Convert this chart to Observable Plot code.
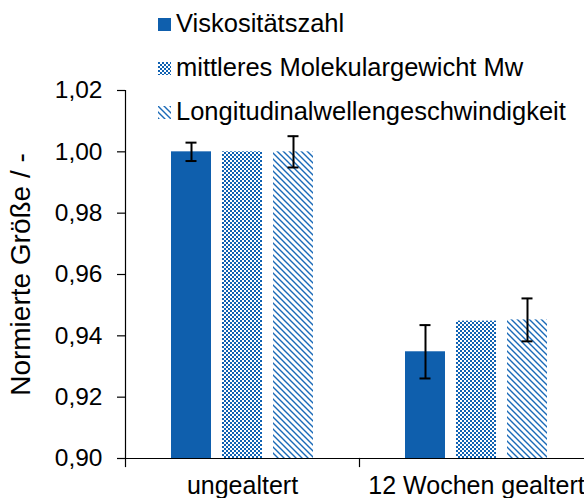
<!DOCTYPE html>
<html><head><meta charset="utf-8">
<script src="https://cdn.jsdelivr.net/npm/d3@7"></script>
<script src="https://cdn.jsdelivr.net/npm/@observablehq/plot@0.6"></script>
<style>
html,body{margin:0;padding:0;background:#fff;overflow:hidden;width:584px;height:498px;}
#wrap{position:relative;width:584px;height:498px;overflow:hidden;}
#chart svg{overflow:hidden;}
#legend{position:absolute;left:158px;top:1px;font-family:"Liberation Sans",Arial,sans-serif;font-size:25.5px;line-height:44px;color:#000;white-space:nowrap;}
#legend .row{height:44px;}
#legend svg{vertical-align:1px;margin-right:5px;}
</style></head><body>
<svg width="0" height="0" style="position:absolute">
<defs>
<pattern id="checker" width="4" height="4" patternUnits="userSpaceOnUse">
<rect width="4" height="4" fill="#fff"/>
<rect width="2" height="2" fill="#1062b2"/>
<rect x="2" y="2" width="2" height="2" fill="#1062b2"/>
</pattern>
<pattern id="stripes" width="6" height="6" patternUnits="userSpaceOnUse">
<rect width="6" height="6" fill="#fff"/>
<path d="M0,0L6,6M-1,5L1,7M5,-1L7,1" stroke="#1a6ab8" stroke-width="1.4"/>
</pattern>
</defs></svg>
<div id="wrap"><div id="chart"></div><div id="legend"></div></div>
<script>
const categories = ["ungealtert", "12 Wochen gealtert"];
const series = ["Viskositätszahl", "mittleres Molekulargewicht Mw", "Longitudinalwellengeschwindigkeit"];
const viskositaet = [1.000, 0.9348];
const viskositaetErr = [0.0030, 0.0087];
const molekulargewicht = [1.000, 0.9448];
const molekulargewichtErr = [null, null];
const longitudinal = [1.000, 0.9452];
const longitudinalErr = [0.0051, 0.0070];
const yTicks = [0.90, 0.92, 0.94, 0.96, 0.98, 1.00, 1.02];
const yLabel = "Normierte Größe / -";
const fills = ["#0f5fad", "url(#checker)", "url(#stripes)"];

const values = [viskositaet, molekulargewicht, longitudinal];
const errors = [viskositaetErr, molekulargewichtErr, longitudinalErr];
const rows = [];
categories.forEach((cat, i) => series.forEach((s, j) => rows.push({cat, series: s, value: values[j][i], err: errors[j][i]})));
const errRows = rows.filter(d => d.err != null);

const W = 584, H = 498, mL = 125, mT = 90, mB = 40, mR = -9;
const innerH = H - mT - mB;
const font = '"Liberation Sans", Arial, sans-serif';
const fmt = d => d.toFixed(2).replace(".", ",");

const plot = Plot.plot({
  width: W, height: H,
  marginLeft: mL, marginTop: mT, marginBottom: mB, marginRight: mR,
  style: {fontFamily: font, color: "#000", background: "transparent", overflow: "hidden"},
  fx: {domain: categories, padding: 0, axis: null},
  x: {domain: series, paddingInner: 0.2115, paddingOuter: 0.8558, axis: null},
  y: {domain: [yTicks[0], yTicks[yTicks.length - 1]], axis: null},
  color: {domain: series, range: fills},
  marks: [
    Plot.barY(rows, {fx: "cat", x: "series", y1: yTicks[0], y2: "value", fill: "series"}),
    Plot.ruleX(errRows, {fx: "cat", x: "series", y1: d => d.value - d.err, y2: d => d.value + d.err, stroke: "#000", strokeWidth: 2}),
    Plot.tickY(errRows, {fx: "cat", x: "series", y: d => d.value - d.err, insetLeft: 14.5, insetRight: 14.5, stroke: "#000", strokeWidth: 2}),
    Plot.tickY(errRows, {fx: "cat", x: "series", y: d => d.value + d.err, insetLeft: 14.5, insetRight: 14.5, stroke: "#000", strokeWidth: 2}),
    Plot.ruleY([yTicks[0]], {stroke: "#000", strokeWidth: 1.2}),
    Plot.frame({anchor: "left", facetAnchor: "left", stroke: "#000", strokeWidth: 1.2}),
    Plot.frame({anchor: "left", insetTop: innerH, insetBottom: -8, stroke: "#000", strokeWidth: 1.2}),
    Plot.axisY({ticks: yTicks, tickSize: 8, tickPadding: 15, fontSize: 24.5, tickFormat: fmt, label: null, strokeWidth: 1.2}),
    Plot.axisY({ticks: [], label: yLabel, labelAnchor: "center", labelArrow: "none", labelOffset: 115, fontSize: 28}),
    Plot.axisFx({anchor: "bottom", tickSize: 0, tickPadding: 18, fontSize: 25, label: null})
  ]
});
document.getElementById("chart").appendChild(plot);

const legend = d3.select("#legend");
series.forEach((s, j) => {
  const row = legend.append("div").attr("class", "row");
  const sw = row.append("svg").attr("width", 13).attr("height", 13);
  sw.append("rect").attr("width", 13).attr("height", 13).attr("fill", fills[j]);
  row.append("span").text(s);
});
</script>
</body></html>
